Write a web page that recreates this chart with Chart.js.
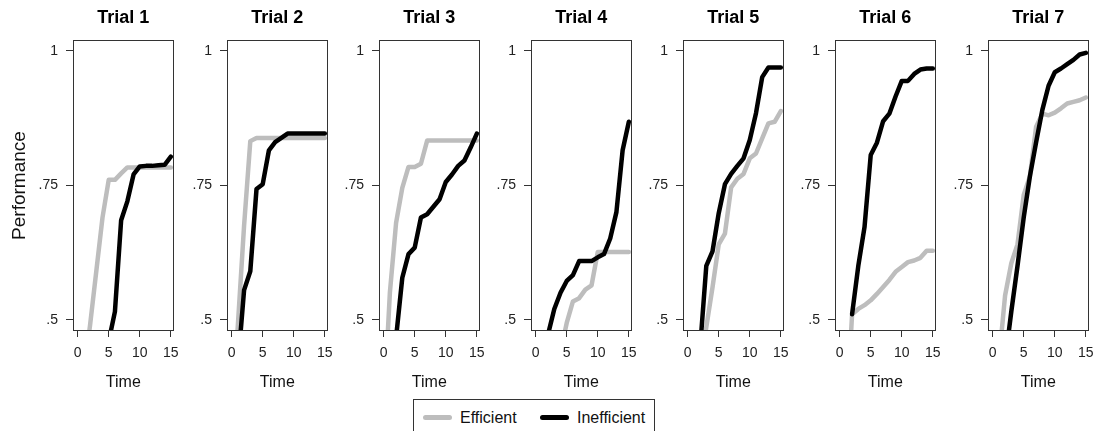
<!DOCTYPE html>
<html>
<head>
<meta charset="utf-8">
<script src="https://cdn.jsdelivr.net/npm/chart.js@4.4.1/dist/chart.umd.min.js"></script>
<style>
  body { margin: 0; background: #fff; width: 1107px; height: 431px; position: relative; overflow: hidden;
         font-family: "Liberation Sans", Arial, sans-serif; color: #111; }
  canvas { position: absolute; top: 0; }
  #legend { position: absolute; left: 413px; top: 399px; width: 242px; height: 33px;
            border: 1px solid #333; box-sizing: border-box; }
  .sw { position: absolute; height: 5px; border-radius: 3px; top: 15px; }
  .lab { position: absolute; font-size: 16px; line-height: 16px; top: 10px; }
</style>
</head>
<body>
<div id="legend">
  <span class="sw" style="left:9px;width:29px;background:#bdbdbd"></span>
  <span class="lab" style="left:46px">Efficient</span>
  <span class="sw" style="left:126px;width:29px;background:#000"></span>
  <span class="lab" style="left:163px">Inefficient</span>
</div>
<script>
// time points shared by every trial
const times = [0, 1, 2, 3, 4, 5, 6, 7, 8, 9, 10, 11, 12, 13, 14, 15];
const trialNames = ['Trial 1', 'Trial 2', 'Trial 3', 'Trial 4', 'Trial 5', 'Trial 6', 'Trial 7'];
const seriesNames = ['Efficient', 'Inefficient'];
const xTicks = [0, 5, 10, 15];
const yTicks = [0.5, 0.75, 1];

// Efficient (gray) per trial, null = no value
const eff1 = [null, 0.40, 0.49, 0.59, 0.69, 0.76, 0.76, 0.772, 0.783, 0.783, 0.783, 0.783, 0.783, 0.783, 0.783, 0.783];
const eff2 = [0.31, 0.49, 0.675, 0.832, 0.838, 0.838, 0.838, 0.838, 0.838, 0.838, 0.838, 0.838, 0.838, 0.838, 0.838, 0.838];
const eff3 = [0.33, 0.55, 0.68, 0.745, 0.784, 0.784, 0.79, 0.833, 0.833, 0.833, 0.833, 0.833, 0.833, 0.833, 0.833, 0.833];
const eff4 = [null, null, null, null, 0.44, 0.494, 0.534, 0.54, 0.556, 0.564, 0.626, 0.626, 0.626, 0.626, 0.626, 0.626];
const eff5 = [null, null, 0.41, 0.486, 0.56, 0.64, 0.66, 0.746, 0.762, 0.771, 0.80, 0.809, 0.837, 0.865, 0.868, 0.888];
const eff6 = [null, 0.30, 0.51, 0.52, 0.527, 0.536, 0.548, 0.561, 0.574, 0.589, 0.598, 0.607, 0.61, 0.615, 0.628, 0.628];
const eff7 = [null, 0.423, 0.545, 0.605, 0.64, 0.732, 0.767, 0.859, 0.883, 0.88, 0.885, 0.893, 0.902, 0.905, 0.908, 0.913];

// Inefficient (black) per trial
const ineff1 = [null, null, null, null, null, 0.46, 0.515, 0.685, 0.72, 0.77, 0.785, 0.786, 0.786, 0.787, 0.788, 0.803];
const ineff2 = [null, 0.415, 0.555, 0.59, 0.743, 0.752, 0.815, 0.83, 0.838, 0.846, 0.846, 0.846, 0.846, 0.846, 0.846, 0.846];
const ineff3 = [null, null, 0.467, 0.578, 0.622, 0.634, 0.69, 0.696, 0.71, 0.724, 0.756, 0.77, 0.786, 0.796, 0.82, 0.846];
const ineff4 = [null, null, 0.473, 0.52, 0.55, 0.572, 0.583, 0.609, 0.609, 0.609, 0.616, 0.622, 0.651, 0.70, 0.815, 0.868];
const ineff5 = [null, null, 0.447, 0.60, 0.627, 0.698, 0.752, 0.771, 0.786, 0.80, 0.834, 0.884, 0.951, 0.969, 0.969, 0.969];
const ineff6 = [null, null, 0.51, 0.60, 0.672, 0.806, 0.829, 0.869, 0.883, 0.915, 0.944, 0.944, 0.957, 0.965, 0.967, 0.967];
const ineff7 = [null, null, 0.423, 0.515, 0.60, 0.69, 0.767, 0.83, 0.89, 0.935, 0.96, 0.967, 0.975, 0.983, 0.993, 0.996];

const efficient = [eff1, eff2, eff3, eff4, eff5, eff6, eff7];
const inefficient = [ineff1, ineff2, ineff3, ineff4, ineff5, ineff6, ineff7];

Chart.defaults.font.family = '"Liberation Sans", Arial, sans-serif';
Chart.defaults.color = '#222';

// panel geometry (plot box left edges on the page)
const boxLefts = [73, 227, 379, 531, 683, 835, 988];
const boxWidth = 104;

// frame round each plot area
const boxPlugin = {
  id: 'panelBox',
  afterDatasetsDraw(chart) {
    const a = chart.chartArea;
    const ctx = chart.ctx;
    ctx.save();
    ctx.strokeStyle = '#333';
    ctx.lineWidth = 1;
    ctx.strokeRect(Math.round(a.left) + 0.5, Math.round(a.top) + 0.5,
                   Math.round(a.width) - 1, Math.round(a.height) - 1);
    ctx.restore();
  }
};

function toPoints(vals) {
  return times.map((t, i) => ({ x: t, y: vals[i] })).filter(p => p.y !== null);
}

trialNames.forEach((name, i) => {
  const yw = i === 0 ? 73 : 40;
  const canvas = document.createElement('canvas');
  canvas.width = yw + boxWidth + 10;
  canvas.height = 431;
  canvas.style.left = (boxLefts[i] - yw) + 'px';
  document.body.appendChild(canvas);

  new Chart(canvas.getContext('2d'), {
    type: 'line',
    data: {
      datasets: [{
        label: seriesNames[0],
        data: toPoints(efficient[i]),
        borderColor: '#bdbdbd',
        order: 1
      }, {
        label: seriesNames[1],
        data: toPoints(inefficient[i]),
        borderColor: '#000',
        order: 0
      }]
    },
    options: {
      responsive: false,
      animation: false,
      layout: { padding: { left: 0, right: 10, top: 0, bottom: 31 } },
      elements: {
        point: { radius: 0 },
        line: { borderWidth: 4.5, tension: 0, borderJoinStyle: 'round', borderCapStyle: 'round' }
      },
      datasets: { line: { clip: 0 } },
      plugins: {
        legend: { display: false },
        tooltip: { enabled: false },
        title: {
          display: true,
          text: name,
          fullSize: false,
          color: '#000',
          font: { size: 18, weight: 'bold' },
          padding: { top: 7, bottom: 11.4 }
        }
      },
      scales: {
        x: {
          type: 'linear',
          min: -0.75,
          max: 15.45,
          afterFit: s => { s.height = 69; },
          afterBuildTicks: s => { s.ticks = xTicks.map(v => ({ value: v })); },
          ticks: { font: { size: 14 }, padding: 8, maxRotation: 0, autoSkip: false },
          grid: { drawOnChartArea: false, drawTicks: true, tickLength: 6, color: '#333' },
          border: { display: false },
          title: { display: true, text: 'Time', color: '#111', font: { size: 16 }, padding: { top: 0, bottom: 8 } }
        },
        y: {
          min: 0.479,
          max: 1.02,
          afterFit: s => { s.width = yw; },
          afterBuildTicks: s => { s.ticks = yTicks.map(v => ({ value: v })); },
          ticks: {
            font: { size: 14 },
            padding: 8,
            callback: v => (v === 1 ? '1' : String(v).replace('0.', '.'))
          },
          grid: { drawOnChartArea: false, drawTicks: true, tickLength: 7, color: '#333' },
          border: { display: false },
          title: { display: i === 0, text: 'Performance', color: '#111', font: { size: 19 }, padding: { top: 8 } }
        }
      }
    },
    plugins: [boxPlugin]
  });
});
</script>
</body>
</html>
